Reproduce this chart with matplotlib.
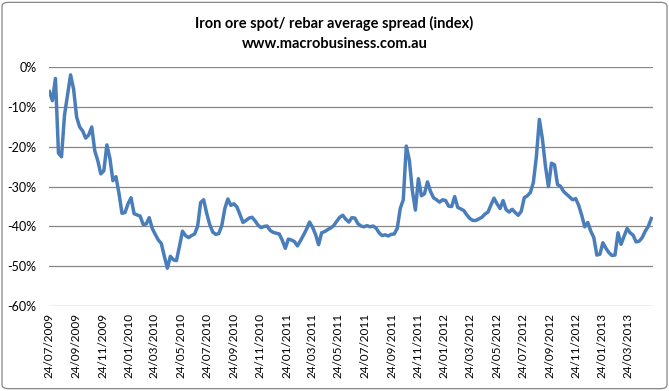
import numpy as np
import pandas as pd
import matplotlib
matplotlib.use("Agg")
import matplotlib.pyplot as plt
from matplotlib.patches import FancyBboxPatch

# weekly readings (Fridays), spread in %
start_date = "2009-07-24"
n_weeks = 200
spread = [
    -6.1, -8.4, -2.8, -21.6, -22.5, -12.0, -7.0, -1.9, -5.5, -12.5,
    -15.0, -16.0, -17.8, -17.0, -15.0, -21.0, -23.5, -26.8, -26.0, -19.5,
    -22.9, -28.5, -27.5, -31.7, -36.7, -36.5, -34.3, -32.8, -36.8, -37.1,
    -37.4, -39.5, -39.4, -37.8, -40.5, -42.0, -43.4, -44.3, -47.5, -50.5,
    -47.5, -48.4, -48.6, -45.0, -41.2, -42.3, -42.8, -42.3, -41.9, -40.0,
    -34.0, -33.3, -36.7, -39.5, -41.4, -42.0, -41.8, -39.8, -35.5, -33.1,
    -34.7, -34.3, -35.1, -37.0, -39.0, -38.5, -37.9, -37.7, -38.6, -39.7,
    -40.3, -40.0, -39.9, -41.0, -41.5, -41.7, -41.9, -43.5, -45.5, -43.2,
    -43.4, -43.8, -44.9, -43.6, -42.2, -40.7, -38.9, -40.2, -42.0, -44.6,
    -41.6, -41.3, -40.8, -40.4, -39.8, -38.7, -37.7, -37.2, -38.2, -38.9,
    -37.8, -37.9, -39.3, -39.9, -40.1, -39.8, -40.1, -39.9, -40.4, -41.6,
    -42.3, -42.1, -42.4, -42.0, -41.9, -40.5, -35.5, -33.3, -19.8, -23.3,
    -31.0, -35.9, -28.0, -32.3, -31.8, -28.8, -31.2, -32.8, -33.3, -33.9,
    -33.3, -33.5, -34.9, -35.0, -32.5, -35.2, -35.6, -36.0, -37.1, -38.0,
    -38.5, -38.5, -38.1, -37.7, -36.9, -36.4, -34.6, -32.9, -34.3, -35.5,
    -33.5, -35.8, -36.4, -35.7, -36.5, -37.2, -36.2, -32.8, -32.3, -31.5,
    -29.0, -22.5, -13.1, -18.0, -24.8, -30.0, -24.1, -24.5, -29.5, -29.9,
    -31.2, -31.9, -32.6, -33.3, -33.0, -34.7, -37.2, -40.1, -39.0, -41.2,
    -42.8, -47.2, -47.0, -44.1, -45.5, -46.6, -47.3, -47.2, -41.6, -44.5,
    -42.5, -40.5, -41.6, -42.2, -43.9, -43.7, -42.8, -41.2, -40.0, -38.0,
]

tick_labels = [
    "24/07/2009", "24/09/2009", "24/11/2009", "24/01/2010", "24/03/2010",
    "24/05/2010", "24/07/2010", "24/09/2010", "24/11/2010", "24/01/2011",
    "24/03/2011", "24/05/2011", "24/07/2011", "24/09/2011", "24/11/2011",
    "24/01/2012", "24/03/2012", "24/05/2012", "24/07/2012", "24/09/2012",
    "24/11/2012", "24/01/2013", "24/03/2013",
]
y_ticks = [0, -10, -20, -30, -40, -50, -60]

title = "Iron ore spot/ rebar average spread (index)"
subtitle = "www.macrobusiness.com.au"

dates = pd.date_range(start_date, periods=n_weeks, freq="7D")
tick_dates = pd.to_datetime(tick_labels, dayfirst=True)

plt.rcParams["font.family"] = ["Lato", "DejaVu Sans"]

fig = plt.figure(figsize=(6.69, 3.91), dpi=100)
ax = fig.add_axes([0.0732, 0.2174, 0.9029, 0.6105])

# chart border
fig.patches.append(FancyBboxPatch((0.003, 0.006), 0.994, 0.988,
                                  boxstyle="round,pad=0,rounding_size=0.01",
                                  transform=fig.transFigure, fill=False,
                                  edgecolor="#868686", linewidth=0.9))

for v in y_ticks:
    ax.axhline(v, color="#868686", linewidth=0.9, zorder=1)

ax.plot(dates, spread, color="#4A7EBB", linewidth=2.5, zorder=3)

ax.set_ylim(-60, 0)
ax.set_xlim(pd.Timestamp(start_date) - pd.Timedelta(days=1),
            pd.Timestamp("2013-05-21"))
ax.set_yticks(y_ticks)
ax.set_yticklabels([f"{v}%" for v in y_ticks], fontsize=9)
ax.set_xticks(tick_dates)
ax.set_xticklabels(tick_labels, rotation=90, fontsize=8.5)
ax.tick_params(axis="y", length=0, pad=9)
ax.tick_params(axis="x", length=0, pad=5)
for s in ax.spines.values():
    s.set_visible(False)

fig.text(0.5, 0.941, title, ha="center", va="center", fontsize=10.5,
         fontweight="bold")
fig.text(0.5, 0.888, subtitle, ha="center", va="center", fontsize=10.5,
         fontweight="bold")

fig.savefig("out.png", dpi=100)
